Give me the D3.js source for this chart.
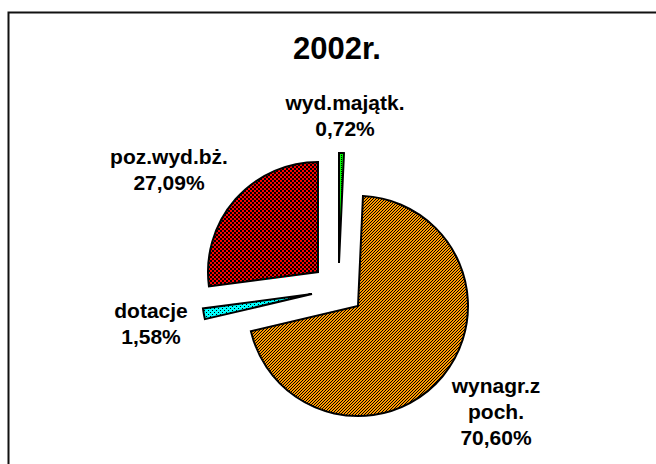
<!DOCTYPE html>
<html>
<head>
<meta charset="utf-8">
<script src="https://cdn.jsdelivr.net/npm/d3@7"></script>
<style>
	body { margin: 0; background: #fff; }
	svg { display: block; }
	.label { font-family: "Liberation Sans", Arial, sans-serif; font-weight: bold; font-size: 21px; fill: #000; }
	.title { font-family: "Liberation Sans", Arial, sans-serif; font-weight: bold; font-size: 31px; fill: #000; }
</style>
</head>
<body>
<svg id="pie-plot" width="656" height="464" viewBox="0 0 656 464"></svg>
<script>

// slices, clockwise from 12 o'clock
const categories = ["wyd.majątk.", "wynagr.z poch.", "dotacje", "poz.wyd.bż."];
const values = [0.72, 70.60, 1.58, 27.09];
const value_labels = ["0,72%", "70,60%", "1,58%", "27,09%"];
const label_lines = [["wyd.majątk."], ["wynagr.z", "poch."], ["dotacje"], ["poz.wyd.bż."]];
const title_text = "2002r.";

class PiePlot {

	makePatterns(defs) {
		// pixel patterns drawn from 1px cells
		function pixelPattern(id, size, bg, fg, isOn) {
			const p = defs.append("pattern")
				.attr("id", id)
				.attr("patternUnits", "userSpaceOnUse")
				.attr("width", size)
				.attr("height", size);
			p.append("rect").attr("width", size).attr("height", size).attr("fill", bg);
			for (let x = 0; x < size; x++) {
				for (let y = 0; y < size; y++) {
					if (isOn(x, y)) {
						p.append("rect").attr("x", x).attr("y", y)
							.attr("width", 1).attr("height", 1).attr("fill", fg);
					}
				}
			}
		}
		pixelPattern("pat-green", 4, "#00ff00", "#000", (x, y) => (x + y) % 2 === 0 && y % 2 === 0);
		pixelPattern("pat-orange", 3, "#ff9900", "#000", (x, y) => ((x + y) % 3) === 0);
		pixelPattern("pat-cyan", 4, "#00ffff", "#000", (x, y) => (x === 0 && y === 0) || (x === 2 && y === 2));
		pixelPattern("pat-red", 4, "#ff0000", "#000", (x, y) => ((Math.floor(x / 2) + Math.floor(y / 2)) % 2) === 0);
	}

	constructor(svg_element_id) {
		this.svg = d3.select('#' + svg_element_id);

		const defs = this.svg.append("defs");
		this.makePatterns(defs);

		// chart frame (runs off the right and bottom)
		this.svg.append("rect")
			.attr("x", 8.5).attr("y", 12.5)
			.attr("width", 700).attr("height", 500)
			.attr("fill", "none")
			.attr("stroke", "#111")
			.attr("stroke-width", 2);

		this.svg.append("text")
			.attr("class", "title")
			.attr("x", 337).attr("y", 59)
			.attr("text-anchor", "middle")
			.text(title_text);

		const center = [338, 289],
			radius = 110,
			explode = 26;

		const fills = ["url(#pat-green)", "url(#pat-orange)", "url(#pat-cyan)", "url(#pat-red)"];

		const pie = d3.pie().sort(null).value(d => d)(values);
		const arc = d3.arc().innerRadius(0).outerRadius(radius);

		const g = this.svg.append("g")
			.attr("transform", "translate(" + center[0] + "," + center[1] + ")");

		// whole-pixel offsets keep the fill patterns crisp
		g.selectAll("path")
			.data(pie)
			.enter().append("path")
				.attr("d", arc)
				.attr("transform", d => {
					const mid = (d.startAngle + d.endAngle) / 2;
					return "translate(" + Math.round(explode * Math.sin(mid)) + "," + Math.round(-explode * Math.cos(mid)) + ")";
				})
				.attr("fill", (d, i) => fills[i])
				.attr("stroke", "#000")
				.attr("stroke-width", 2)
				.attr("stroke-linejoin", "miter");

		// label positions (center x, first baseline)
		const label_pos = [[345, 110], [496, 393], [151, 318], [169, 164]];
		const line_step = 26;

		label_lines.forEach((lines, i) => {
			const all = lines.concat([value_labels[i]]);
			const t = this.svg.append("text")
				.attr("class", "label")
				.attr("text-anchor", "middle");
			all.forEach((s, k) => {
				t.append("tspan")
					.attr("x", label_pos[i][0])
					.attr("y", label_pos[i][1] + k * line_step)
					.text(s);
			});
		});
	}
}

function whenDocumentLoaded(action) {
	if (document.readyState === "loading") {
		document.addEventListener("DOMContentLoaded", action);
	} else {
		action();
	}
}

whenDocumentLoaded(() => {
	plot_object = new PiePlot('pie-plot');
});
</script>
</body>
</html>
